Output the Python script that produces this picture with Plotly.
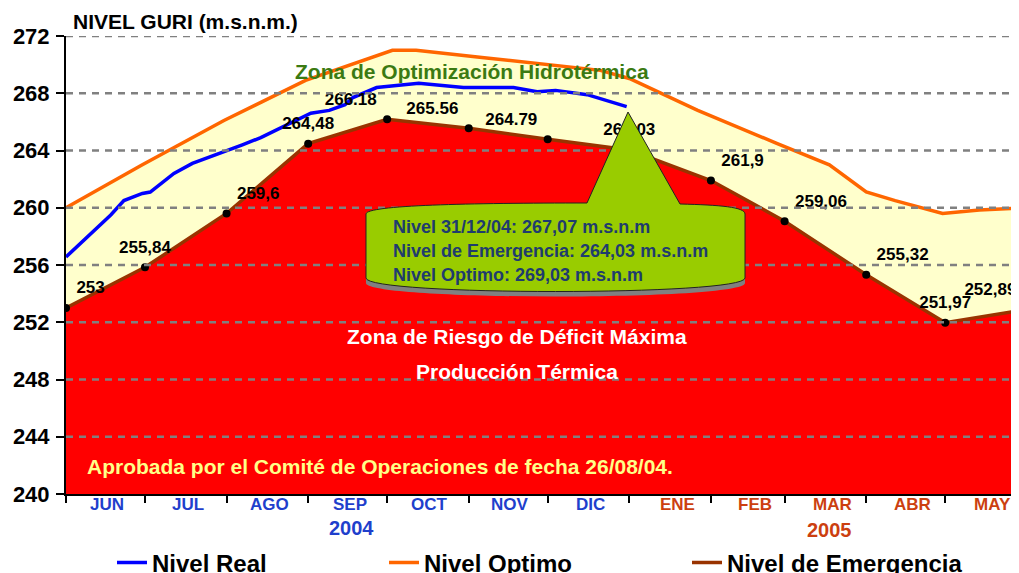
import plotly.graph_objects as go
import pandas as pd

# ---------------- data ----------------
emerg_dates = ["2004-06-01", "2004-07-01", "2004-08-01", "2004-09-01", "2004-10-01",
               "2004-11-01", "2004-12-01", "2005-01-01", "2005-02-01", "2005-03-01",
               "2005-04-01", "2005-05-01", "2005-06-01"]
emerg_vals = [253.0, 255.84, 259.6, 264.48, 266.18, 265.56, 264.79, 264.03,
              261.9, 259.06, 255.32, 251.97, 252.89]
emerg_labels = ["253", "255,84", "259,6", "264,48", "266.18", "265.56", "264.79",
                "264.03", "261,9", "259,06", "255,32", "251,97", "252,89"]

optimo_dates = ["2004-06-01", "2004-06-30", "2004-07-31", "2004-08-31", "2004-10-03",
                "2004-10-12", "2004-11-06", "2004-12-02", "2004-12-21", "2005-01-01",
                "2005-01-27", "2005-02-26", "2005-03-18", "2005-04-01", "2005-04-12",
                "2005-04-30", "2005-05-14", "2005-05-31"]
optimo_vals = [260.0, 263.0, 266.1, 268.9, 271.0, 271.0, 270.5, 270.0, 269.6, 269.03,
               266.8, 264.5, 263.0, 261.1, 260.5, 259.6, 259.85, 260.0]

real_dates = ["2004-06-01", "2004-06-11", "2004-06-18", "2004-06-23", "2004-06-30",
              "2004-07-03", "2004-07-07", "2004-07-12", "2004-07-19", "2004-07-28",
              "2004-08-07", "2004-08-14", "2004-08-26", "2004-09-02", "2004-09-09",
              "2004-09-15", "2004-09-18", "2004-09-27", "2004-10-13", "2004-10-30",
              "2004-11-18", "2004-11-27", "2004-12-04", "2004-12-16", "2004-12-31"]
real_vals = [256.56, 258.3, 259.5, 260.5, 261.0, 261.1, 261.7, 262.4, 263.1, 263.7,
             264.4, 264.9, 266.0, 266.6, 266.8, 267.2, 267.7, 268.4, 268.7, 268.4,
             268.4, 268.1, 268.2, 267.9, 267.07]

month_labels = ["JUN", "JUL", "AGO", "SEP", "OCT", "NOV", "DIC",
                "ENE", "FEB", "MAR", "ABR", "MAY"]
month_years = [2004] * 7 + [2005] * 5
y_ticks = [240, 244, 248, 252, 256, 260, 264, 268, 272]

# label placement (style only)
label_pos = ["top right", "top center", "top right", "top center", "top left",
             "top left", "top left", "top center", "top right", "top right",
             "top right", "top center", "top left"]

# ---------------- geometry helpers ----------------
OFF = 8                       # page margin of the html body
L, T = 66, 36                 # plot area top-left in page pixels
W, H = 945, 458               # plot area size in pixels
FIG_W, FIG_H = 1003, 565


def px(x):
    return (x - L) / W


def py(y):
    return (T + H - y) / H


def P(x, y):
    return f"{px(x):.5f},{py(y):.5f}"


FONT = "Arial, 'Liberation Sans', sans-serif"
BLUE_TXT = "#1f3fcc"
ORANGE_TXT = "#cc3f10"

fig = go.Figure()

# red zone (below emergency)
fig.add_trace(go.Scatter(x=emerg_dates, y=emerg_vals, mode="lines",
                         line=dict(width=0, color="#ff0000"), fill="tozeroy",
                         fillcolor="#ff0000", showlegend=False, hoverinfo="skip"))
# yellow zone (between emergency and optimum)
fig.add_trace(go.Scatter(x=optimo_dates, y=optimo_vals, mode="lines",
                         line=dict(width=0, color="#ffffcc"), fill="tonexty",
                         fillcolor="#ffffcc", showlegend=False, hoverinfo="skip"))
# lines
fig.add_trace(go.Scatter(x=real_dates, y=real_vals, mode="lines", name="Nivel Real",
                         line=dict(color="#0000ff", width=3.5), legend="legend"))
fig.add_trace(go.Scatter(x=optimo_dates, y=optimo_vals, mode="lines", name="Nivel Optimo",
                         line=dict(color="#ff6600", width=3.5), legend="legend2"))
fig.add_trace(go.Scatter(x=emerg_dates, y=emerg_vals, mode="lines",
                         name="Nivel de Emergencia",
                         line=dict(color="#993300", width=3.5), legend="legend3"))
# point markers
fig.add_trace(go.Scatter(x=emerg_dates, y=emerg_vals, mode="markers",
                         marker=dict(color="black", size=8), showlegend=False,
                         hoverinfo="skip"))
# point labels (transparent, larger markers give the labels more clearance)
fig.add_trace(go.Scatter(x=emerg_dates, y=emerg_vals, mode="markers+text",
                         text=emerg_labels, textposition=label_pos,
                         textfont=dict(family=FONT, size=17, color="black", weight="bold"),
                         marker=dict(color="rgba(0,0,0,0)", size=15), showlegend=False,
                         hoverinfo="skip"))

shapes = []
# dashed grid lines drawn above the fills
for v in y_ticks[1:]:
    shapes.append(dict(type="line", xref="paper", yref="y", x0=0, x1=1, y0=v, y1=v,
                       line=dict(color="#808080", width=2.5, dash="7px,6px"),
                       layer="above"))

# callout shadow
shadow = ("M " + P(366, 219) + " L " + P(366, 283) + " C " + P(366, 301) + " " +
          P(745, 301) + " " + P(745, 283) + " L " + P(745, 219) + " Z")
shapes.append(dict(type="path", xref="paper", yref="paper", path=shadow,
                   fillcolor="#808080", line=dict(width=0), layer="above"))
# callout body with pointer
body = ("M " + P(366, 278) + " L " + P(366, 214) +
        " C " + P(366, 205) + " " + P(470, 203) + " " + P(587, 203) +
        " L " + P(628, 112) + " L " + P(680, 204) +
        " C " + P(720, 205) + " " + P(745, 207) + " " + P(745, 214) +
        " L " + P(745, 278) +
        " C " + P(745, 296) + " " + P(366, 296) + " " + P(366, 278) + " Z")
shapes.append(dict(type="path", xref="paper", yref="paper", path=body,
                   fillcolor="#99cc00", line=dict(color="#222222", width=1),
                   layer="above"))

annotations = []


def note(text, x, y, size, color, xanchor="center", xref="paper", xshift=0):
    return dict(text=text, xref=xref, yref="paper", x=x, y=y, xanchor=xanchor,
                yanchor="middle", xshift=xshift, showarrow=False,
                font=dict(family=FONT, size=size, color=color, weight="bold"))


# title
annotations.append(note("NIVEL GURI (m.s.n.m.)", px(71), py(21), 21, "black",
                        xanchor="left"))
# month labels
starts = pd.to_datetime(emerg_dates)
for i, lab in enumerate(month_labels):
    mid = starts[i] + (starts[i + 1] - starts[i]) / 2
    col = BLUE_TXT if month_years[i] == 2004 else ORANGE_TXT
    annotations.append(note(lab, mid.isoformat(), py(505), 17, col, xref="x",
                            xshift=2 if month_years[i] == 2004 else 7))
# year labels
for yr, idx, col, ys in [(2004, 3, BLUE_TXT, 528), (2005, 9, ORANGE_TXT, 530)]:
    mid = starts[idx] + (starts[idx + 1] - starts[idx]) / 2
    annotations.append(note(str(yr), mid.isoformat(), py(ys), 20, col, xref="x",
                            xshift=4))
# zone texts
annotations.append(note("Zona de Optimización Hidrotérmica", px(472), py(72), 21,
                        "#3b7a12"))
annotations.append(note("Zona de Riesgo de Déficit Máxima", px(517), py(336), 21,
                        "white"))
annotations.append(note("Producción Térmica", px(517), py(371), 21, "white"))
annotations.append(note("Aprobada por el Comité de Operaciones de fecha 26/08/04.",
                        px(85), py(466), 21, "#ffff88", xanchor="left"))
# callout text
for txt, yy in [("Nivel 31/12/04: 267,07 m.s.n.m", 227),
                ("Nivel de Emergencia: 264,03 m.s.n.m", 251),
                ("Nivel Optimo: 269,03 m.s.n.m", 275)]:
    annotations.append(note(txt, px(391), py(yy), 18, "#1f3c6e", xanchor="left"))

legend_font = dict(family=FONT, size=24, color="black", weight="bold")


def leg(xpix):
    return dict(orientation="h", x=px(xpix), xanchor="left", y=py(563),
                yanchor="middle", font=legend_font, bgcolor="rgba(0,0,0,0)",
                borderwidth=0)


fig.update_layout(
    width=FIG_W, height=FIG_H,
    margin=dict(l=L - OFF, r=FIG_W - (L - OFF) - W, t=T - OFF,
                b=FIG_H - (T - OFF) - H, autoexpand=False),
    plot_bgcolor="white", paper_bgcolor="white",
    font=dict(family=FONT),
    hovermode=False,
    showlegend=True,
    legend=leg(112), legend2=leg(384), legend3=leg(687),
    shapes=shapes, annotations=annotations,
    xaxis=dict(type="date", range=["2004-06-01", "2005-05-26"],
               tickvals=emerg_dates, ticks="outside", ticklen=7, tickwidth=1.5,
               tickcolor="black", showticklabels=False, showgrid=False,
               showline=True, linecolor="black", linewidth=1.5, zeroline=False),
    yaxis=dict(range=[240, 272], tickvals=y_ticks, ticks="outside", ticklen=8,
               tickwidth=1.5, tickcolor="black", showgrid=False, showline=True,
               linecolor="black", linewidth=2, zeroline=False,
               ticklabelstandoff=2,
               tickfont=dict(family=FONT, size=22, color="black", weight="bold")),
)

fig.write_html("out.html")
